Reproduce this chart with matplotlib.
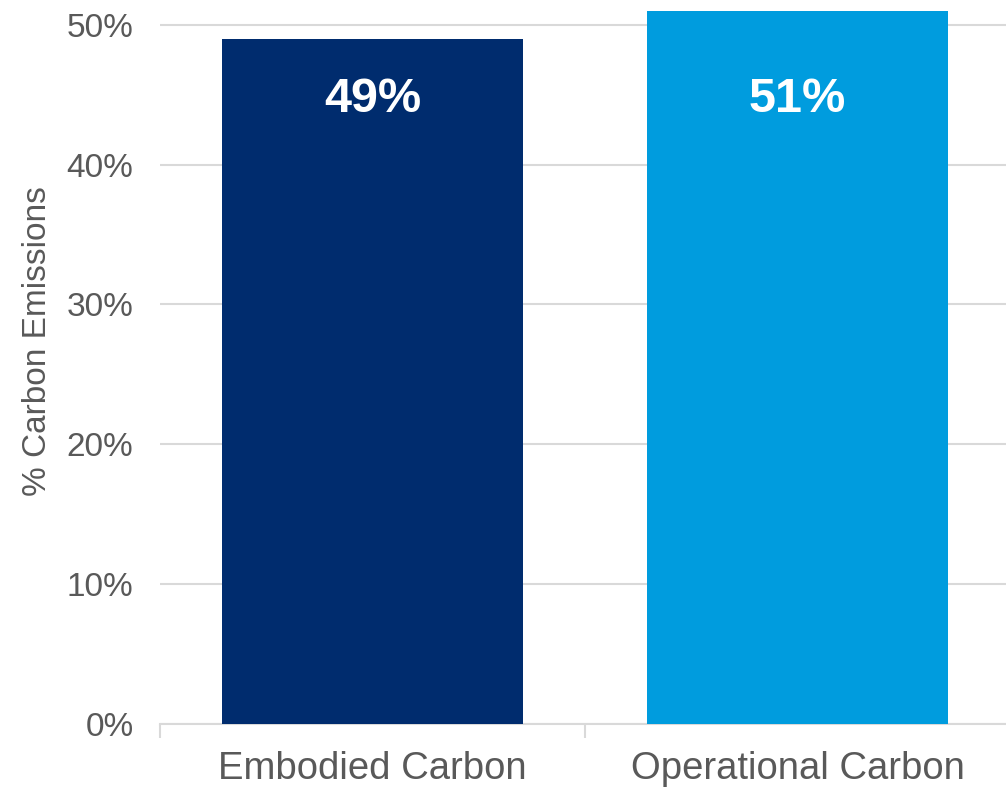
import matplotlib.pyplot as plt
from matplotlib.ticker import FuncFormatter

plt.rcParams['font.family'] = ['Liberation Sans', 'DejaVu Sans']

categories = ['Embodied Carbon', 'Operational Carbon']
shares = [49, 51]
bar_colors = ['#002C6E', '#009CDE']
yticks = [0, 10, 20, 30, 40, 50]

fig = plt.figure(figsize=(10.06, 7.89), dpi=100)
ax = fig.add_axes([160 / 1006, 65.5 / 789, 850 / 1006, 723.5 / 789])

x = range(len(categories))
bars = ax.bar(x, shares, width=0.708, color=bar_colors, zorder=3)

for b, v in zip(bars, shares):
    ax.text(b.get_x() + b.get_width() / 2, 44.7, f'{v}%', ha='center', va='center',
            color='white', fontsize=35, fontweight='bold', zorder=4)

ax.set_xlim(-0.5, 1.5)
ax.set_ylim(0, 51.79)
ax.set_yticks(yticks)
ax.yaxis.set_major_formatter(FuncFormatter(lambda v, p: f'{v:.0f}%'))
ax.grid(axis='y', color='#d9d9d9', linewidth=1.5, zorder=0)
ax.set_axisbelow(True)

for s in ['top', 'right', 'left']:
    ax.spines[s].set_visible(False)
ax.spines['bottom'].set_color('#d9d9d9')
ax.spines['bottom'].set_linewidth(1.5)

ax.set_xticks(x)
ax.set_xticklabels(categories)
ax.set_xticks([-0.5, 0.5, 1.5], minor=True)
ax.tick_params(axis='x', which='major', length=0, pad=20, labelsize=27.5, labelcolor='#595959')
ax.tick_params(axis='x', which='minor', length=10, width=1.5, color='#d9d9d9')
ax.tick_params(axis='y', length=0, pad=19, labelsize=24, labelcolor='#595959')

# y axis title placed on the figure
fig.text(38 / 1006, 1 - 341.5 / 789, '% Carbon Emissions', rotation=90,
         ha='center', va='center', fontsize=24, color='#595959')

fig.savefig('out.png', dpi=100)
